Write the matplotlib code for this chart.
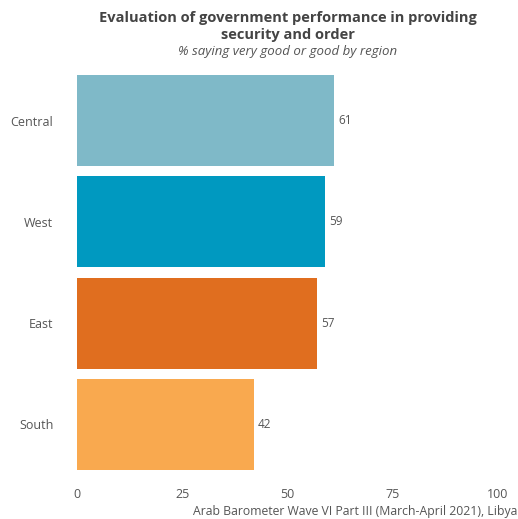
import matplotlib
matplotlib.use("Agg")
import matplotlib.pyplot as plt

categories = ["Central", "West", "East", "South"]
values = [61, 59, 57, 42]
colors = ["#7fb9c8", "#0099c0", "#e06e1f", "#f9a94f"]
xticks = [0, 25, 50, 75, 100]

plt.rcParams['font.family'] = ['Open Sans', 'DejaVu Sans']
txt = "#555555"

fig = plt.figure(figsize=(5.18, 5.19), dpi=100)
ax = fig.add_axes([77/518, 1-475/519, (498-77)/518, (475-70)/519])
ypos = list(range(len(categories)))[::-1]
ax.barh(ypos, values, height=0.9, color=colors)
for y, v in zip(ypos, values):
    ax.text(v + 1.0, y, str(v), va='center', ha='left', fontsize=8.5, color=txt)
ax.set_xlim(0, 100)
ax.set_ylim(-0.5, 3.5)
ax.set_yticks(ypos)
ax.set_yticklabels(categories, fontsize=9, color=txt)
ax.set_xticks(xticks)
ax.set_xticklabels([str(t) for t in xticks], fontsize=9, color=txt)
ax.tick_params(length=0, axis='y', pad=17)
ax.tick_params(length=0, axis='x', pad=9)
for s in ax.spines.values():
    s.set_visible(False)

cx = (77 + 498) / 2 / 518
fig.text(cx, 1-26.5/519, "Evaluation of government performance in providing\nsecurity and order",
         ha='center', va='center', fontsize=10.5, fontweight='bold', color="#444444",
         linespacing=1.25)
fig.text(cx, 1-51/519, "% saying very good or good by region", ha='center', va='center',
         fontsize=9.5, style='italic', color=txt)
fig.text(517/518, 1-511/519, "Arab Barometer Wave VI Part III (March-April 2021), Libya",
         ha='right', va='center', fontsize=8.8, color=txt)
fig.savefig("out.png", dpi=100)
